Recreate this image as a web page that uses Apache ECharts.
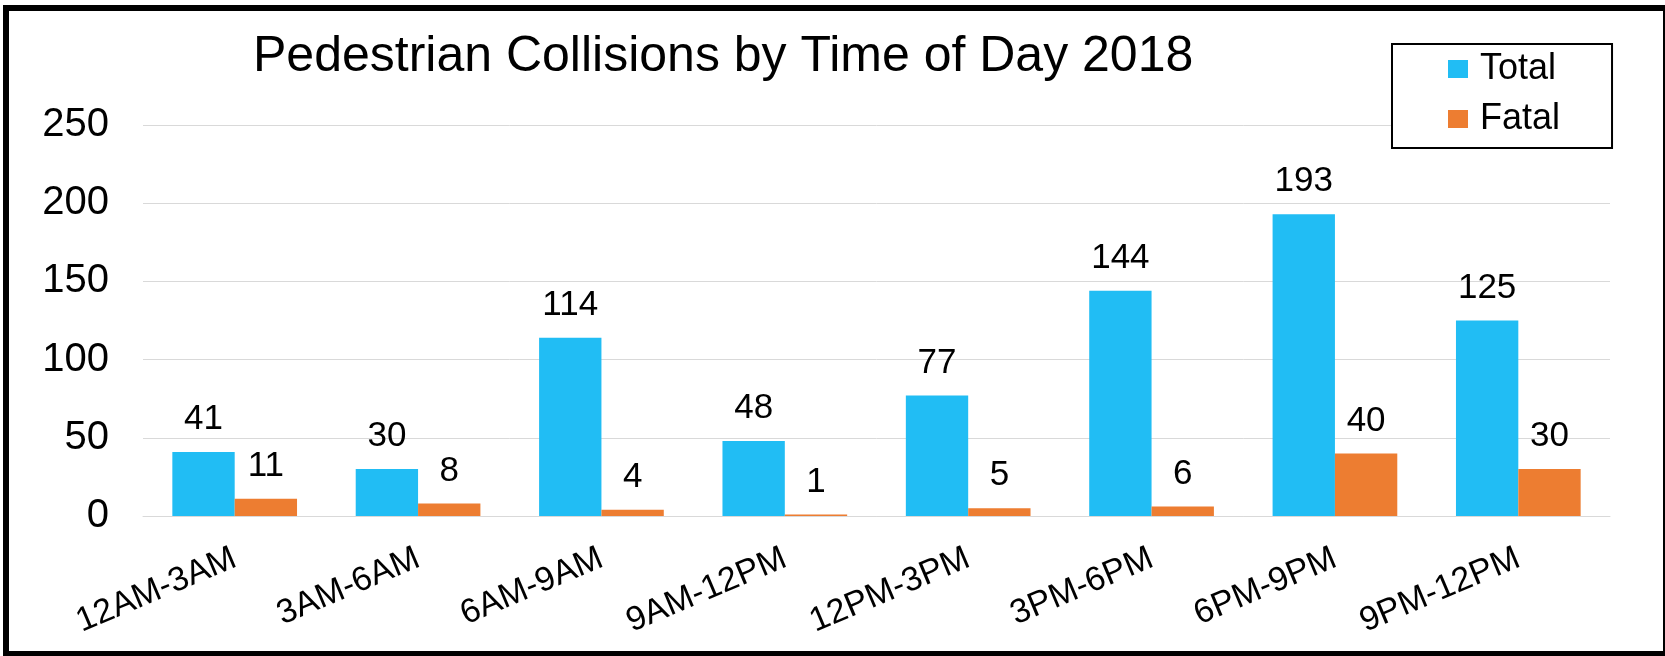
<!DOCTYPE html>
<html>
<head>
<meta charset="utf-8">
<title>Pedestrian Collisions by Time of Day 2018</title>
<script src="https://cdn.jsdelivr.net/npm/echarts@6/dist/echarts.min.js"></script>
<style>
  html, body {
    margin: 0;
    padding: 0;
    background: #fff;
  }
  #chart {
    width: 1665px;
    height: 656px;
  }
</style>
</head>
<body>
<div id="chart"></div>
<script>
// data
const categories = ["12AM-3AM", "3AM-6AM", "6AM-9AM", "9AM-12PM", "12PM-3PM", "3PM-6PM", "6PM-9PM", "9PM-12PM"];
const totalValues = [41, 30, 114, 48, 77, 144, 193, 125];
const fatalValues = [11, 8, 4, 1, 5, 6, 40, 30];
const yMin = 0;
const yMax = 250;
const yStep = 50;

const fontName = "'Liberation Sans', Arial, sans-serif";

const chartInstance = echarts.init(document.getElementById("chart"));

const option = {
  backgroundColor: "#fff",
  animation: false,
  title: {
    text: "Pedestrian Collisions by Time of Day 2018",
    left: 253,
    top: 32,
    padding: 0,
    textStyle: {
      fontFamily: fontName,
      fontSize: 50,
      fontWeight: "normal",
      color: "#000",
    },
  },
  legend: {
    orient: "vertical",
    left: 1392,
    top: 44,
    padding: [7, 52, 11, 56],
    itemGap: 14,
    itemWidth: 20,
    itemHeight: 18,
    backgroundColor: "#fff",
    borderColor: "#000",
    borderWidth: 2,
    borderRadius: 0,
    data: [
      { name: "Total", icon: "rect" },
      { name: "Fatal", icon: "rect" },
    ],
    textStyle: {
      fontFamily: fontName,
      fontSize: 36,
      color: "#000",
      padding: [0, 0, 0, 7],
    },
  },
  grid: {
    left: 143,
    right: 55,
    top: 125,
    bottom: 140,
  },
  xAxis: {
    type: "category",
    data: categories,
    axisTick: { show: false },
    axisLine: {
      lineStyle: { color: "#d9d9d9", width: 1 },
    },
    axisLabel: {
      interval: 0,
      rotate: 23,
      margin: 41,
      fontFamily: fontName,
      fontSize: 34,
      color: "#000",
    },
  },
  yAxis: {
    type: "value",
    min: yMin,
    max: yMax,
    interval: yStep,
    axisLine: { show: false },
    axisTick: { show: false },
    splitLine: {
      lineStyle: { color: "#d9d9d9", width: 1 },
    },
    axisLabel: {
      margin: 34,
      fontFamily: fontName,
      fontSize: 40,
      color: "#000",
    },
  },
  graphic: [
    {
      // outer black frame
      type: "rect",
      z: 100,
      shape: { x: 6, y: 8, width: 1660, height: 646 },
      style: { fill: null, stroke: "#000", lineWidth: 6 },
    },
  ],
  series: [
    {
      name: "Total",
      type: "bar",
      data: totalValues,
      barGap: "0%",
      barCategoryGap: "32%",
      itemStyle: { color: "#21bdf4" },
      label: {
        show: true,
        position: "top",
        distance: 15,
        fontFamily: fontName,
        fontSize: 35,
        color: "#000",
      },
    },
    {
      name: "Fatal",
      type: "bar",
      data: fatalValues,
      barGap: "0%",
      barCategoryGap: "32%",
      itemStyle: { color: "#ed7d31" },
      label: {
        show: true,
        position: "top",
        distance: 15,
        fontFamily: fontName,
        fontSize: 35,
        color: "#000",
      },
    },
  ],
};

chartInstance.setOption(option);
</script>
</body>
</html>
